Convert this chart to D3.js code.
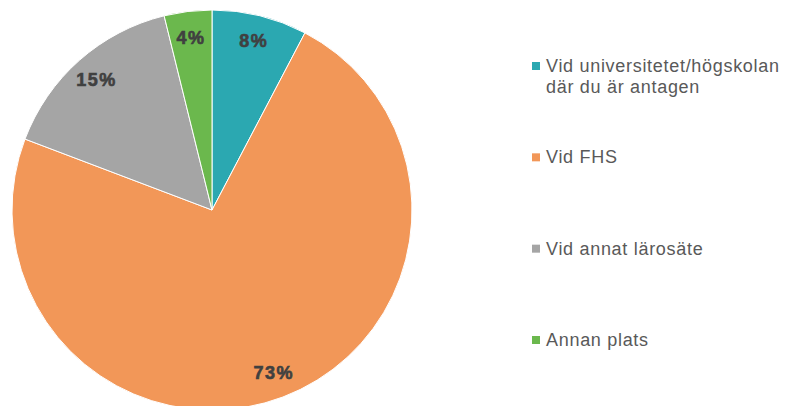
<!DOCTYPE html>
<html>
<head>
<meta charset="utf-8">
<script src="https://cdn.jsdelivr.net/npm/d3@7"></script>
<style>
    body { margin: 0; background: #fff; }
    svg { display: block; }
</style>
</head>
<body>
<svg id="chart"></svg>
<script>
// Data
var categories = [
    "Vid universitetet/högskolan där du är antagen",
    "Vid FHS",
    "Vid annat lärosäte",
    "Annan plats"
];
var legendLines = [
    ["Vid universitetet/högskolan", "där du är antagen"],
    ["Vid FHS"],
    ["Vid annat lärosäte"],
    ["Annan plats"]
];
var counts = [2, 19, 4, 1];
var pctLabels = ["8%", "73%", "15%", "4%"];
var colors = ["#2ba8b1", "#f29758", "#a5a5a5", "#6bb84d"];

var w = 785;
var h = 406;
var cx = 212, cy = 210, radius = 200;

var svg = d3.select("#chart").attr("width", w).attr("height", h);

var pie = d3.pie().sort(null).value(function(d) { return d; });
var arcs = pie(counts);

var arc = d3.arc().innerRadius(0).outerRadius(radius);
var labelArc = d3.arc().innerRadius(174).outerRadius(174);

var g = svg.append("g")
    .attr("transform", "translate(" + cx + "," + cy + ")");

// Slices
g.selectAll("path")
    .data(arcs)
    .enter()
    .append("path")
    .attr("d", arc)
    .attr("fill", function(d, i) { return colors[i]; })
    .attr("stroke", "#fff")
    .attr("stroke-width", 1);

// Percentage labels
g.selectAll("text.pct")
    .data(arcs)
    .enter()
    .append("text")
    .attr("class", "pct")
    .attr("transform", function(d) {
        return "translate(" + labelArc.centroid(d) + ")";
    })
    .attr("text-anchor", "middle")
    .attr("dy", "0.35em")
    .attr("font-family", "Liberation Sans, Arial, sans-serif")
    .attr("font-weight", "bold")
    .attr("font-size", "18px")
    .attr("letter-spacing", "1.5px")
    .attr("stroke", "#404040")
    .attr("stroke-width", 0.6)
    .attr("fill", "#404040")
    .text(function(d, i) { return pctLabels[i]; });

// Legend
var legendY = d3.scalePoint()
    .domain(d3.range(categories.length))
    .range([72, 346]);

var legend = svg.append("g").selectAll("g")
    .data(categories)
    .enter()
    .append("g")
    .attr("transform", function(d, i) {
        return "translate(532," + legendY(i) + ")";
    });

legend.append("rect")
    .attr("x", 0)
    .attr("y", -10)
    .attr("width", 8)
    .attr("height", 8)
    .attr("fill", function(d, i) { return colors[i]; });

legend.append("text")
    .attr("x", 14)
    .attr("font-family", "Liberation Sans, Arial, sans-serif")
    .attr("font-size", "18px")
    .attr("letter-spacing", "0.7px")
    .attr("fill", "#595959")
    .selectAll("tspan")
    .data(function(d, i) { return legendLines[i]; })
    .enter()
    .append("tspan")
    .attr("x", 14)
    .attr("y", function(d, j) { return j * 21; })
    .text(function(d) { return d; });
</script>
</body>
</html>
